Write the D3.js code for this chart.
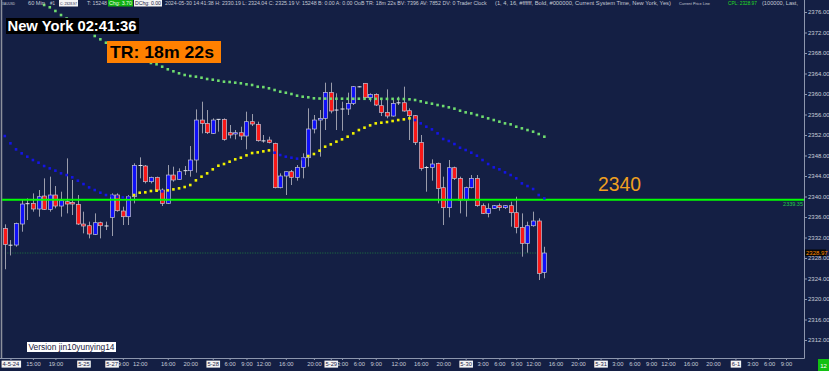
<!DOCTYPE html>
<html lang="en">
<head>
<meta charset="UTF-8">
<title>XAUUSD 60 Min</title>
<script src="https://d3js.org/d3.v7.min.js"></script>
<style>
    body { margin: 0; background: #141f44; }
    svg { display: block; }
    text { font-family: "Liberation Sans", "DejaVu Sans", sans-serif; }
</style>
</head>
<body>
<svg width="829" height="371"></svg>
<script>
    // hourly bars, 2024-05-24 .. 2024-05-30 14:00
    var opens = [2333.78,2330.55,2330.53,2334.63,2338.50,2338.66,2337.56,2340.09,2337.49,2340.29,
        2338.14,2338.99,2338.86,2338.47,2334.63,2334.30,2332.61,2334.89,2334.30,2335.93,
        2340.29,2337.17,2336.06,2339.96,2346.10,2345.95,2342.89,2343.74,2341.26,2338.66,
        2344.19,2343.35,2345.00,2345.04,2347.12,2354.92,2354.27,2352.32,2355.00,2355.05,
        2352.45,2352.19,2352.45,2351.80,2354.60,2354.08,2350.90,2351.02,2350.37,2341.72,
        2344.00,2344.84,2343.74,2345.69,2347.57,2353.17,2354.92,2355.25,2360.32,2356.68,
        2357.05,2357.07,2358.17,2361.43,2362.08,2359.28,2359.93,2357.72,2356.42,2355.70,
        2358.30,2358.30,2356.74,2355.77,2350.56,2345.60,2345.69,2346.47,2341.72,2337.82,
        2345.62,2343.54,2339.31,2341.72,2343.54,2338.21,2336.71,2337.69,2338.21,2337.82,
        2338.21,2336.84,2333.98,2330.86,2334.30,2335.22,2325.19];
    var highs = [2334.57,2331.50,2334.90,2339.31,2339.64,2340.61,2341.26,2343.54,2343.87,2342.04,
        2340.94,2347.44,2343.22,2340.29,2337.04,2335.09,2336.71,2335.09,2335.09,2340.61,
        2340.61,2338.01,2340.29,2346.47,2347.64,2346.14,2343.87,2343.87,2341.59,2346.14,
        2345.82,2345.49,2345.95,2349.85,2357.00,2358.50,2356.87,2355.25,2355.10,2355.25,
        2353.95,2352.97,2353.62,2356.55,2356.09,2354.60,2352.00,2351.67,2350.50,2344.52,
        2344.84,2345.17,2346.14,2348.42,2357.20,2355.90,2356.87,2362.21,2362.21,2360.13,
        2358.50,2360.26,2361.56,2361.56,2362.08,2360.13,2360.13,2359.15,2360.91,2358.83,
        2359.48,2361.43,2357.20,2355.90,2352.00,2345.95,2347.25,2346.60,2343.87,2347.12,
        2345.82,2343.87,2341.91,2344.19,2344.19,2338.66,2338.66,2338.34,2338.66,2338.34,
        2338.99,2339.96,2336.71,2335.09,2337.04,2335.74,2330.19];
    var lows = [2325.80,2328.50,2330.20,2333.13,2335.41,2337.04,2336.06,2337.36,2337.04,2337.69,
        2336.06,2336.71,2336.39,2334.43,2332.81,2331.83,2332.48,2331.83,2333.46,2332.29,
        2337.04,2334.43,2334.43,2338.66,2343.54,2342.56,2342.56,2340.94,2338.14,2338.53,
        2342.89,2343.22,2344.19,2343.87,2344.65,2352.32,2352.19,2352.19,2352.65,2350.89,
        2351.35,2351.15,2351.02,2349.20,2353.75,2350.70,2350.50,2350.37,2341.59,2341.59,
        2340.29,2342.24,2343.09,2343.54,2345.82,2352.32,2347.77,2352.97,2356.22,2352.97,
        2352.84,2355.90,2357.85,2361.30,2359.15,2358.50,2357.65,2355.70,2355.25,2355.57,
        2357.85,2356.55,2351.02,2350.04,2345.04,2340.94,2343.09,2338.66,2334.43,2335.93,
        2343.22,2336.71,2336.06,2341.59,2338.01,2336.58,2335.93,2337.56,2337.23,2337.56,
        2334.11,2332.81,2328.26,2329.04,2334.11,2323.70,2324.04];
    var closes = [2330.66,2330.50,2334.76,2338.53,2338.60,2337.56,2339.96,2337.49,2340.29,2338.14,
        2339.18,2338.53,2338.53,2334.63,2334.24,2332.68,2334.89,2334.30,2334.25,2340.29,
        2337.23,2336.06,2339.96,2346.08,2346.05,2342.89,2343.74,2341.26,2338.66,2344.19,
        2343.22,2344.84,2345.04,2347.12,2354.92,2354.27,2352.45,2354.92,2355.05,2351.15,
        2352.00,2352.45,2351.80,2354.60,2354.14,2350.89,2350.85,2350.56,2341.72,2344.00,
        2344.84,2343.74,2345.69,2347.57,2353.17,2354.92,2355.25,2360.32,2356.68,2356.87,
        2357.07,2358.17,2361.43,2361.40,2359.28,2359.93,2357.85,2356.42,2355.70,2358.17,
        2358.28,2356.68,2355.77,2350.56,2345.49,2345.65,2346.34,2341.59,2337.82,2345.62,
        2343.54,2339.31,2341.72,2343.54,2338.21,2336.71,2337.69,2338.21,2337.82,2338.21,
        2336.84,2333.98,2330.86,2334.30,2335.22,2325.00,2328.97];

    // slow average (green dots), first bars are above the visible range
    var slowMA = [null,null,null,null,null,null,null,
        2377.37,2376.92,2376.20,2375.41,2374.73,2374.05,2373.37,2372.68,2372.00,2371.32,2370.67,2370.01,2369.37,
        2368.78,2368.20,2367.71,2367.22,2366.83,2366.44,2366.05,2365.80,2365.33,2364.82,
        2364.43,2364.04,2363.71,2363.51,2363.38,2363.18,2362.93,2362.79,2362.60,2362.40,
        2362.34,2362.21,2362.09,2361.89,2361.76,2361.42,2361.35,2361.11,2360.78,2360.45,
        2360.25,2360.00,2359.67,2359.47,2359.36,2359.16,2359.12,2359.10,2359.09,2359.08,
        2359.08,2359.07,2359.07,2359.08,2359.07,2359.07,2359.06,2359.06,2359.05,2359.05,
        2359.04,2359.02,2358.96,2358.83,2358.57,2358.30,2358.11,2357.85,2357.65,2357.40,
        2357.14,2356.74,2356.42,2356.22,2355.90,2355.57,2355.25,2354.92,2354.60,2354.27,
        2354.08,2353.62,2353.30,2352.97,2352.65,2352.19,2351.67];
    // fast average, yellow when rising, blue when falling
    var fastMA = [2351.80,2350.37,2349.20,2348.42,2347.77,2347.12,2346.60,2345.95,2345.49,2345.04,
        2344.52,2344.19,2343.74,2343.09,2342.43,2341.78,2341.26,2340.74,2340.29,2340.09,
        2339.96,2339.83,2339.77,2340.29,2340.74,2340.81,2341.07,2341.13,2341.00,2341.20,
        2341.39,2341.59,2341.85,2342.24,2343.15,2343.87,2344.52,2345.30,2346.01,2346.34,
        2346.79,2347.25,2347.57,2348.03,2348.48,2348.61,2348.81,2349.00,2348.55,2348.09,
        2347.77,2347.57,2347.38,2347.31,2347.90,2348.29,2348.94,2349.72,2350.17,2350.70,
        2351.15,2351.67,2352.32,2352.97,2353.43,2353.88,2354.27,2354.40,2354.53,2354.73,
        2354.92,2355.05,2355.25,2354.92,2354.27,2353.62,2353.10,2352.32,2351.22,2350.83,
        2350.24,2349.52,2349.07,2348.55,2347.96,2347.12,2346.34,2345.69,2345.30,2344.71,
        2344.19,2343.54,2342.56,2342.04,2341.46,2340.29,2339.64];

    var tickLabels = ["4-5-24","15:00","19:00","5-25","5-27","9:00","12:00","16:00","20:00",
        "5-28","6:00","9:00","12:00","16:00","20:00","5-29","3:00","6:00","9:00","12:00","16:00","20:00",
        "5-30","3:00","6:00","9:00","12:00","16:00","20:00","5-31","3:00","6:00","9:00","12:00","16:00","20:00",
        "6-1","3:00","6:00","9:00"];
    var tickBars = [1,5,9,14,19,21,24,29,33,
        37,40,43,46,50,55,58,60,63,66,70,74,78,
        82,85,88,91,94,98,102,106,109,112,115,118,122,126,
        130,133,136,139];
    var priceTicks = [2376,2372,2368,2364,2360,2356,2352,2348,2344,2340,2336,2332,2328,2324,2320,2316,2312];

    var levelPrice = 2339.35;
    var lastPrice = 2328.97;

    var svg = d3.select("svg"),
        width = +svg.attr("width"),
        height = +svg.attr("height");

    var plotRight = 804, plotBottom = 358;

    var x = d3.scaleLinear().domain([-0.5, 142.2]).range([2, plotRight]);
    var y = d3.scaleLinear().domain([2312, 2376]).range([340, 12]);

    svg.append("rect").attr("width", width).attr("height", height).attr("fill", "#141f44");

    var plot = svg.append("g");

    // frame
    plot.append("line").attr("x1", 1.5).attr("x2", 1.5).attr("y1", 0).attr("y2", plotBottom)
        .attr("stroke", "#8c909c").attr("stroke-width", 1.5);
    plot.append("line").attr("x1", plotRight + 0.5).attr("x2", plotRight + 0.5).attr("y1", 0).attr("y2", plotBottom + 0.5)
        .attr("stroke", "#8d96ad");
    plot.append("line").attr("x1", 0).attr("x2", plotRight + 0.5).attr("y1", plotBottom + 0.5).attr("y2", plotBottom + 0.5)
        .attr("stroke", "#8d96ad");

    var bars = d3.range(opens.length);

    // last price dotted line
    plot.append("line")
        .attr("x1", x(0)).attr("x2", x(bars.length - 1))
        .attr("y1", y(lastPrice)).attr("y2", y(lastPrice))
        .attr("stroke", "#1f7a40").attr("stroke-dasharray", "1,1.5");

    // candles
    var candle = plot.append("g").selectAll("g")
        .data(bars)
        .enter().append("g");

    candle.append("line")
        .attr("x1", function(i) { return Math.round(x(i)) + 0.5; })
        .attr("x2", function(i) { return Math.round(x(i)) + 0.5; })
        .attr("y1", function(i) { return y(highs[i]); })
        .attr("y2", function(i) { return y(lows[i]); })
        .attr("stroke", "#9a9cab")
        .attr("stroke-width", 1);

    candle.append("rect")
        .attr("x", function(i) { return Math.round(x(i)) - 1.5; })
        .attr("width", 4)
        .attr("y", function(i) {
            var h = Math.abs(y(opens[i]) - y(closes[i]));
            return h < 1 ? y(closes[i]) - 0.5 : y(Math.max(opens[i], closes[i]));
        })
        .attr("height", function(i) { return Math.max(1, Math.abs(y(opens[i]) - y(closes[i]))); })
        .attr("fill", function(i) {
            if (Math.abs(y(opens[i]) - y(closes[i])) < 1) return "#e8e8f0";
            return closes[i] > opens[i] ? "#1010f8" : "#f81818";
        })
        .attr("stroke", function(i) {
            return Math.abs(y(opens[i]) - y(closes[i])) < 1 ? "none" : "#c4c4d4";
        })
        .attr("stroke-width", 0.7);

    // level line
    plot.append("line")
        .attr("x1", 2).attr("x2", plotRight)
        .attr("y1", y(levelPrice)).attr("y2", y(levelPrice))
        .attr("stroke", "#00ff00").attr("stroke-width", 2);
    plot.append("text")
        .attr("x", plotRight - 1).attr("y", y(levelPrice) + 6.5)
        .attr("text-anchor", "end")
        .attr("font-size", "5.5px")
        .attr("fill", "#22c84a")
        .text(levelPrice.toFixed(2));

    // moving average dots
    plot.append("g").selectAll("rect")
        .data(bars.filter(function(i) { return fastMA[i] != null; }))
        .enter().append("rect")
        .attr("x", function(i) { return x(i) - 1.3; })
        .attr("y", function(i) { return y(fastMA[i]) - 1.3; })
        .attr("width", 2.6).attr("height", 2.6)
        .attr("fill", function(i) {
            return i > 0 && fastMA[i] > fastMA[i - 1] ? "#f2f200" : "#1414e6";
        });

    plot.append("g").selectAll("rect")
        .data(bars.filter(function(i) { return slowMA[i] != null; }))
        .enter().append("rect")
        .attr("x", function(i) { return x(i) - 1.3; })
        .attr("y", function(i) { return y(slowMA[i]) - 1.3; })
        .attr("width", 2.6).attr("height", 2.6)
        .attr("fill", "#6fdc6f");

    // right price axis
    var yAxis = svg.append("g")
        .attr("transform", "translate(" + plotRight + ",0)")
        .call(d3.axisRight(y).tickValues(priceTicks).tickFormat(d3.format(".2f")).tickSize(3).tickPadding(1));
    yAxis.select(".domain").remove();
    yAxis.selectAll(".tick line").attr("stroke", "#8d96ad");
    yAxis.selectAll(".tick text").attr("fill", "#c8ccd8").attr("font-size", "6px")
        .attr("font-family", "Liberation Sans, sans-serif");

    // last price tag
    svg.append("rect").attr("x", 805).attr("y", y(lastPrice) - 3.5).attr("width", 21).attr("height", 6.5)
        .attr("fill", "#050505");
    svg.append("text").attr("x", 806).attr("y", y(lastPrice) + 2)
        .attr("font-size", "6px").attr("fill", "#ff8c00")
        .text(lastPrice.toFixed(2));

    // bottom time axis
    var xAxis = svg.append("g")
        .attr("transform", "translate(0," + plotBottom + ")")
        .call(d3.axisBottom(x).tickValues(tickBars)
            .tickFormat(function(d, i) { return tickLabels[i]; })
            .tickSize(2).tickPadding(2));
    xAxis.select(".domain").remove();
    xAxis.selectAll(".tick line").attr("stroke", "#8d96ad");
    xAxis.selectAll(".tick text")
        .attr("fill", function(d, i) { return tickLabels[i].indexOf("-") >= 0 ? "#1a2244" : "#c8ccd8"; })
        .attr("font-size", "5.8px")
        .attr("font-family", "Liberation Sans, sans-serif");
    xAxis.selectAll(".tick").each(function(d, i) {
        if (tickLabels[i].indexOf("-") < 0) return;
        var t = d3.select(this).select("text");
        var b = t.node().getBBox();
        d3.select(this).insert("rect", "text")
            .attr("x", b.x - 1).attr("y", b.y - 0.5)
            .attr("width", b.width + 2).attr("height", b.height + 1)
            .attr("fill", "#f4f4f4");
    });

    svg.append("rect").attr("x", 818).attr("y", 359).attr("width", 11).attr("height", 12).attr("fill", "#12c012");
    svg.append("text").attr("x", 823.5).attr("y", 367.5).attr("text-anchor", "middle")
        .attr("font-size", "6px").attr("fill", "#ffffff").text("12");

    // header line: each piece is sized to fit its slot
    var header = [
        {x: 2, w: 13, t: "XAUUSD"},
        {x: 28, w: 17, t: "60 Min"},
        {x: 50, w: 5, t: "#1"},
        {x: 60, w: 17, t: "C: 2328.97", bg: "#f4f4f4", c: "#1a2244"},
        {x: 87, w: 20, t: "T: 15248"},
        {x: 109, w: 23, t: "Chg: 3.70", bg: "#10b010", c: "#e8ffe8"},
        {x: 135, w: 26, t: "DChg: 0.00", bg: "#f4f4f4", c: "#1a2244"},
        {x: 165, w: 322, t: "2024-05-30 14:41:38 H: 2330.19 L: 2324.04 C: 2325.19 V: 15248 B: 0.00 A: 0.00 OoB TR: 18m 22s BV: 7396 AV: 7852 DV: 0 Trader Clock"},
        {x: 495, w: 176, t: "(1, 4, 16, #ffffff, Bold, #000000, Current System Time, New York, Yes)"},
        {x: 679, w: 31, t: "Current Price Line"},
        {x: 728, w: 29, t: "CPL: 2328.97", c: "#22dd22"},
        {x: 762, w: 36, t: "(100000, Last,"}
    ];
    var hg = svg.append("g");
    header.forEach(function(h) {
        if (h.bg) {
            hg.append("rect").attr("x", h.x - 1).attr("y", 0).attr("width", h.w + 2).attr("height", 6.5)
                .attr("fill", h.bg);
        }
        var t = hg.append("text")
            .attr("x", h.x).attr("y", 5.2)
            .attr("font-size", "5.8px")
            .attr("fill", h.c || "#c4c8d4")
            .text(h.t);
        var natural = t.node().getComputedTextLength();
        if (natural > h.w) t.attr("font-size", (5.8 * h.w / natural).toFixed(2) + "px");
    });

    // clock overlays
    svg.append("rect").attr("x", 6).attr("y", 18).attr("width", 133).attr("height", 16).attr("fill", "#000000");
    svg.append("text").attr("x", 7.5).attr("y", 30.5)
        .attr("font-family", "Open Sans, sans-serif").attr("font-weight", "bold").attr("font-size", "14px")
        .attr("textLength", 129).attr("lengthAdjust", "spacingAndGlyphs")
        .attr("fill", "#ffffff").text("New York 02:41:36");

    svg.append("rect").attr("x", 107).attr("y", 41).attr("width", 114).attr("height", 22).attr("fill", "#ff8000");
    svg.append("text").attr("x", 110).attr("y", 58)
        .attr("font-family", "Open Sans, sans-serif").attr("font-weight", 600).attr("font-size", "17px")
        .attr("textLength", 104).attr("lengthAdjust", "spacingAndGlyphs")
        .attr("fill", "#000000").text("TR: 18m 22s");

    svg.append("text").attr("x", 598).attr("y", 191)
        .attr("font-family", "Open Sans, sans-serif").attr("font-size", "20px")
        .attr("textLength", 43).attr("lengthAdjust", "spacingAndGlyphs")
        .attr("fill", "#f0a020").text("2340");

    svg.append("rect").attr("x", 27).attr("y", 342).attr("width", 89).attr("height", 10).attr("fill", "#ffffff");
    svg.append("text").attr("x", 28.5).attr("y", 350.3)
        .attr("font-family", "Open Sans, sans-serif").attr("font-size", "8.5px")
        .attr("textLength", 86).attr("lengthAdjust", "spacingAndGlyphs")
        .attr("fill", "#1a2040").text("Version jin10yunying14");
</script>
</body>
</html>
